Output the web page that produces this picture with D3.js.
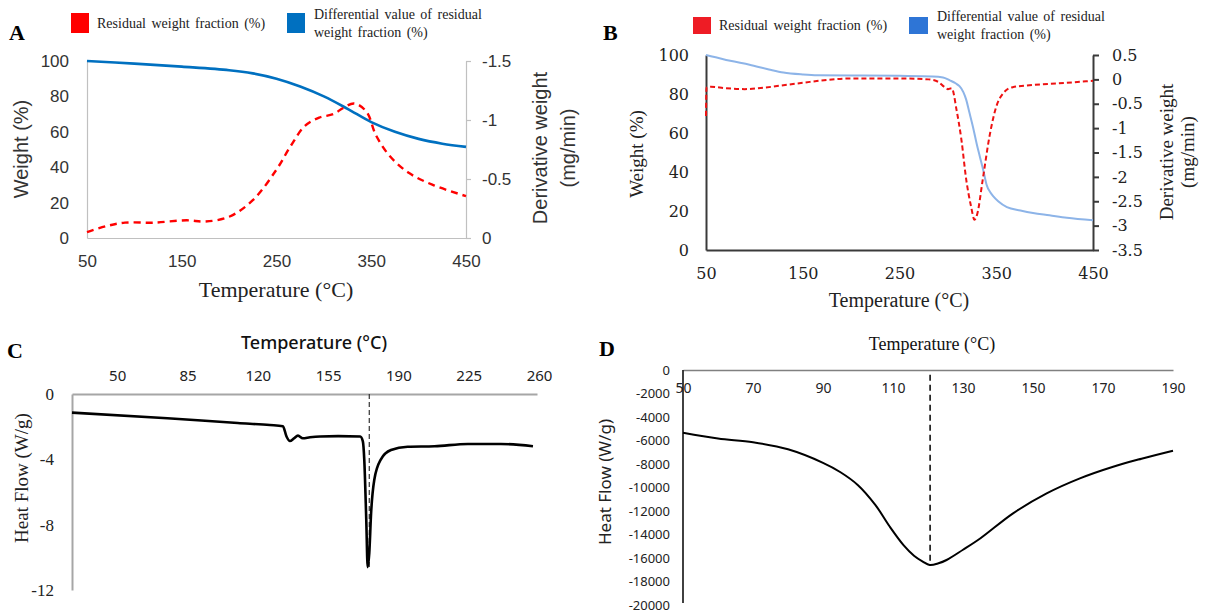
<!DOCTYPE html>
<html>
<head>
<meta charset="utf-8">
<script src="https://cdn.jsdelivr.net/npm/d3@7"></script>
<style>
  body { margin: 0; background: #fff; }
  svg { display: block; }
</style>
</head>
<body>
<div id="container"></div>
<script>
// ---- panel A : TGA ----
const tempA_w = [50, 100, 150, 200, 225, 250, 275, 300, 325, 350, 375, 400, 425, 450];
const weightA = [100, 98.5, 96.8, 94.8, 93.0, 90.0, 85.6, 80, 73, 65.5, 60, 56, 53.3, 51.5];
const tempA_d = [50, 70, 90, 120, 155, 175, 200, 225, 250, 265, 280, 295, 310, 320, 332, 345, 355, 370, 390, 415, 450];
const derivA = [-0.05, -0.1, -0.13, -0.13, -0.15, -0.14, -0.18, -0.32, -0.58, -0.78, -0.95, -1.02, -1.05, -1.1, -1.14, -1.07, -0.87, -0.69, -0.55, -0.45, -0.355];
const xTicksA = [50, 150, 250, 350, 450];
const yTicksA = [0, 20, 40, 60, 80, 100];
const y2TicksA = [0, -0.5, -1, -1.5];

// ---- panel B : TGA ----
const tempB_w = [50, 60, 75, 95, 115, 130, 150, 165, 200, 250, 284, 295, 302, 308, 312, 316, 319, 322, 326, 330, 333, 337, 340, 344, 347, 352, 361, 375, 388, 405, 423, 450];
const weightB = [100, 98.8, 97, 95, 92.6, 91, 90, 89.6, 89.5, 89.3, 89, 88.5, 87, 85.5, 84, 81, 77, 71, 63, 54, 48, 40, 33.5, 29.5, 27.5, 25, 22, 20.3, 19, 17.8, 16.5, 15.2];
const tempB_d = [50, 50.5, 55, 70, 90, 110, 130, 150, 175, 200, 250, 280, 290, 296, 300, 304, 309, 314, 319, 324, 327.5, 330.5, 336, 343, 350, 357, 367, 388, 423, 450];
const derivB = [-0.75, -0.17, -0.15, -0.18, -0.2, -0.17, -0.12, -0.07, -0.01, 0.02, 0.02, 0, -0.05, -0.15, -0.2, -0.18, -0.63, -1.24, -2.06, -2.61, -2.88, -2.75, -2.06, -1.17, -0.56, -0.29, -0.16, -0.115, -0.07, -0.03];
const xTicksB = [50, 150, 250, 350, 450];
const yTicksB = [0, 20, 40, 60, 80, 100];
const y2TicksB = [0.5, 0, -0.5, -1, -1.5, -2, -2.5, -3, -3.5];

// ---- panel C : DSC ----
const tempC = [27.5, 75, 110, 126, 132.5, 134.3, 136, 138, 140, 142.4, 146, 151, 160, 171, 172.3, 173, 174, 174.7, 175.5, 176.4, 178, 181.3, 186.3, 194.6, 208, 224.6, 241, 257];
const heatC = [-1.14, -1.48, -1.78, -1.9, -1.97, -2.6, -2.88, -2.72, -2.55, -2.71, -2.65, -2.6, -2.58, -2.6, -2.9, -4, -7.7, -10.6, -9.75, -7.3, -5.25, -4.0, -3.43, -3.23, -3.2, -3.06, -3.06, -3.2];
const peakC = 175.5;
const xTicksC = [50, 85, 120, 155, 190, 225, 260];
const yTicksC = [0, -4, -8, -12];

// ---- panel D : DSC ----
const tempD = [50, 60, 70, 80, 90, 95, 100, 105, 109, 113, 116, 118.5, 120.5, 123, 125.3, 130, 135, 144.3, 153.9, 163.4, 172.9, 181, 190];
const heatD = [-5340, -5830, -6150, -6750, -7900, -8700, -9800, -11500, -13300, -14900, -15800, -16300, -16600, -16450, -16170, -15300, -14320, -12200, -10500, -9220, -8230, -7550, -6870];
const peakD = 120.6;
const xTicksD = [50, 70, 90, 110, 130, 150, 170, 190];
const yTicksD = [0, -2000, -4000, -6000, -8000, -10000, -12000, -14000, -16000, -18000, -20000];

const W = 1208, H = 615;
const svg = d3.select("#container").append("svg").attr("width", W).attr("height", H);

const sans = "'Liberation Sans', Arial, sans-serif";
const serif = "'Liberation Serif', 'Times New Roman', serif";
const dserif = "'DejaVu Serif', serif";
const nsans = "'Noto Sans', 'Open Sans', sans-serif";

function styleAxis(g, color, width, font, size, fill) {
  g.select(".domain").attr("stroke", color).attr("stroke-width", width);
  g.selectAll(".tick line").attr("stroke", color).attr("stroke-width", width);
  g.selectAll(".tick text").attr("font-family", font).attr("font-size", size).attr("fill", fill);
}

function addText(x, y, txt, font, size, opts) {
  opts = opts || {};
  const t = svg.append("text").attr("x", x).attr("y", y).text(txt)
    .attr("font-family", font).attr("font-size", size)
    .attr("fill", opts.fill || "#222")
    .attr("text-anchor", opts.anchor || "start");
  if (opts.weight) t.attr("font-weight", opts.weight);
  if (opts.rotate) t.attr("transform", "rotate(-90," + x + "," + y + ")");
  if (opts.ws) t.attr("word-spacing", opts.ws);
  return t;
}

// ================= A =================
const xA = d3.scaleLinear().domain([50, 450]).range([87, 466]);
const yA = d3.scaleLinear().domain([0, 100]).range([238, 61]);
const y2A = d3.scaleLinear().domain([0, -1.5]).range([238, 61]);

const gxA = svg.append("g").attr("transform", "translate(0,238)")
  .call(d3.axisBottom(xA).tickValues(xTicksA).tickSize(0).tickPadding(17).tickSizeOuter(0));
styleAxis(gxA, "#c0c0c0", 1.2, sans, 17, "#333");
const gyA = svg.append("g").attr("transform", "translate(87,0)")
  .call(d3.axisLeft(yA).tickValues(yTicksA).tickSize(0).tickPadding(18).tickSizeOuter(0));
styleAxis(gyA, "#c0c0c0", 1.2, sans, 17, "#333");
const gy2A = svg.append("g").attr("transform", "translate(466,0)")
  .call(d3.axisRight(y2A).tickValues(y2TicksA).tickSize(5).tickPadding(11).tickSizeOuter(0).tickFormat(d => String(d)));
styleAxis(gy2A, "#c0c0c0", 1.2, sans, 17, "#333");

svg.append("path").datum(tempA_w.map((t, i) => [t, weightA[i]]))
  .attr("fill", "none").attr("stroke", "#0070c0").attr("stroke-width", 2.6)
  .attr("d", d3.line().x(d => xA(d[0])).y(d => yA(d[1])).curve(d3.curveCatmullRom));
svg.append("path").datum(tempA_d.map((t, i) => [t, derivA[i]]))
  .attr("fill", "none").attr("stroke", "#ff0000").attr("stroke-width", 2.4)
  .attr("stroke-dasharray", "7,5")
  .attr("d", d3.line().x(d => xA(d[0])).y(d => y2A(d[1])).curve(d3.curveCatmullRom));

addText(9, 40, "A", serif, 22, { weight: "bold", fill: "#000" });
svg.append("rect").attr("x", 71).attr("y", 13).attr("width", 18).attr("height", 20).attr("fill", "#ff0000");
addText(97, 28, "Residual weight fraction (%)", serif, 14, { ws: 2 });
svg.append("rect").attr("x", 287).attr("y", 13).attr("width", 18).attr("height", 20).attr("fill", "#0070c0");
addText(314, 19, "Differential value of residual", serif, 14, { ws: 2 });
addText(314, 37, "weight fraction (%)", serif, 14, { ws: 2 });
addText(276, 297, "Temperature (°C)", serif, 22, { anchor: "middle" });
addText(28, 149, "Weight (%)", sans, 20, { anchor: "middle", rotate: true, fill: "#333" });
addText(547, 148, "Derivative weight", sans, 20, { anchor: "middle", rotate: true, fill: "#333" });
addText(575, 148, "(mg/min)", sans, 20, { anchor: "middle", rotate: true, fill: "#333" });

// ================= B =================
const xB = d3.scaleLinear().domain([50, 450]).range([706, 1093]);
const yB = d3.scaleLinear().domain([0, 100]).range([250, 55]);
const y2B = d3.scaleLinear().domain([-3.5, 0.5]).range([250, 55]);

const gxB = svg.append("g").attr("transform", "translate(0,250)")
  .call(d3.axisBottom(xB).tickValues(xTicksB).tickSize(0).tickPadding(18).tickSizeOuter(0));
styleAxis(gxB, "#3a3a3a", 2, dserif, 16, "#222");
const gyB = svg.append("g").attr("transform", "translate(706,0)")
  .call(d3.axisLeft(yB).tickValues(yTicksB).tickSize(0).tickPadding(17).tickSizeOuter(0));
styleAxis(gyB, "#3a3a3a", 2, dserif, 16, "#222");
const gy2B = svg.append("g").attr("transform", "translate(1093,0)")
  .call(d3.axisRight(y2B).tickValues(y2TicksB).tickSize(6).tickPadding(13).tickSizeOuter(0).tickFormat(d => String(d)));
styleAxis(gy2B, "#3a3a3a", 2, dserif, 16, "#222");

svg.append("path").datum(tempB_w.map((t, i) => [t, weightB[i]]))
  .attr("fill", "none").attr("stroke", "#8db4e8").attr("stroke-width", 2)
  .attr("d", d3.line().x(d => xB(d[0])).y(d => yB(d[1])).curve(d3.curveMonotoneX));
svg.append("path").datum(tempB_d.map((t, i) => [t, derivB[i]]))
  .attr("fill", "none").attr("stroke", "#ee1111").attr("stroke-width", 2)
  .attr("stroke-dasharray", "5,3")
  .attr("d", d3.line().x(d => xB(d[0])).y(d => y2B(d[1])).curve(d3.curveMonotoneX));

addText(603, 40, "B", serif, 22, { weight: "bold", fill: "#000" });
svg.append("rect").attr("x", 693).attr("y", 17).attr("width", 18).attr("height", 17).attr("fill", "#ee1c25");
addText(719, 30, "Residual weight fraction (%)", serif, 14, { ws: 2 });
svg.append("rect").attr("x", 909).attr("y", 17).attr("width", 19).attr("height", 17).attr("fill", "#2e75d6");
addText(937, 21, "Differential value of residual", serif, 14, { ws: 2 });
addText(937, 39, "weight fraction (%)", serif, 14, { ws: 2 });
addText(899, 307, "Temperature (°C)", serif, 20, { anchor: "middle" });
addText(643, 154, "Weight (%)", serif, 19, { anchor: "middle", rotate: true });
addText(1173, 152, "Derivative weight", serif, 19, { anchor: "middle", rotate: true });
addText(1194, 152, "(mg/min)", serif, 19, { anchor: "middle", rotate: true });

// ================= C =================
const xC = d3.scaleLinear().domain([27.5, 259]).range([72, 537]);
const yC = d3.scaleLinear().domain([0, -12]).range([394, 590]);

const gxC = svg.append("g").attr("transform", "translate(0,394)")
  .call(d3.axisTop(xC).tickValues(xTicksC).tickSize(0).tickPadding(13).tickSizeOuter(0));
styleAxis(gxC, "#a6a6a6", 2, nsans, 15, "#222");
const gyC = svg.append("g").attr("transform", "translate(72,0)")
  .call(d3.axisLeft(yC).tickValues(yTicksC).tickSize(0).tickPadding(18).tickSizeOuter(0).tickFormat(d => String(d)));
styleAxis(gyC, "#a6a6a6", 2, serif, 17, "#222");

svg.append("line").attr("x1", xC(peakC)).attr("x2", xC(peakC))
  .attr("y1", yC(0)).attr("y2", yC(-10.6))
  .attr("stroke", "#333").attr("stroke-width", 1.2).attr("stroke-dasharray", "5,3");
svg.append("path").datum(tempC.map((t, i) => [t, heatC[i]]))
  .attr("fill", "none").attr("stroke", "#000").attr("stroke-width", 2.6)
  .attr("d", d3.line().x(d => xC(d[0])).y(d => yC(d[1])).curve(d3.curveMonotoneX));

addText(7, 358, "C", serif, 22, { weight: "bold", fill: "#000" });
addText(314, 349, "Temperature (°C)", nsans, 18, { anchor: "middle", weight: "500", fill: "#111" });
addText(28, 478, "Heat Flow (W/g)", serif, 19, { anchor: "middle", rotate: true });

// ================= D =================
const xD = d3.scaleLinear().domain([50, 190]).range([683, 1173]);
const yD = d3.scaleLinear().domain([0, -20000]).range([370, 605]);

const gxD = svg.append("g").attr("transform", "translate(0,370)")
  .call(d3.axisBottom(xD).tickValues(xTicksD).tickSize(0).tickPadding(13).tickSizeOuter(0));
styleAxis(gxD, "#808080", 1.6, nsans, 14, "#222");
const gyD = svg.append("g").attr("transform", "translate(683,0)")
  .call(d3.axisLeft(yD).tickValues(yTicksD).tickSize(0).tickPadding(13).tickSizeOuter(0).tickFormat(d => String(d)));
styleAxis(gyD, "#111", 1.6, nsans, 13, "#222");
gyD.select(".domain").attr("d", "M0," + yD(0) + "V603");

svg.append("line").attr("x1", xD(peakD)).attr("x2", xD(peakD))
  .attr("y1", yD(-400)).attr("y2", yD(-16600))
  .attr("stroke", "#111").attr("stroke-width", 1.6).attr("stroke-dasharray", "6,4");
svg.append("path").datum(tempD.map((t, i) => [t, heatD[i]]))
  .attr("fill", "none").attr("stroke", "#000").attr("stroke-width", 2)
  .attr("d", d3.line().x(d => xD(d[0])).y(d => yD(d[1])).curve(d3.curveCatmullRom));

addText(599, 356, "D", serif, 22, { weight: "bold", fill: "#000" });
addText(932, 350, "Temperature (°C)", serif, 18, { anchor: "middle", fill: "#111" });
addText(611, 482, "Heat Flow (W/g)", nsans, 17, { anchor: "middle", rotate: true });
</script>
</body>
</html>
